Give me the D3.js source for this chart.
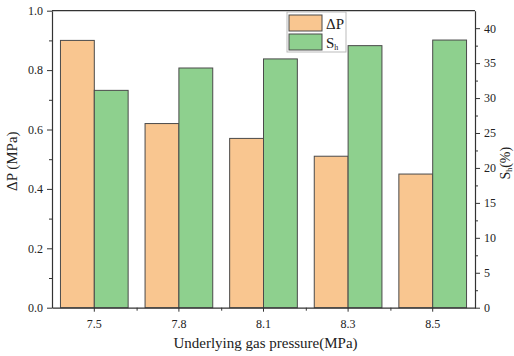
<!DOCTYPE html>
<html>
<head>
<meta charset="utf-8">
<script src="https://cdn.jsdelivr.net/npm/d3@7"></script>
<style>
  html, body { margin: 0; padding: 0; background: #fff; }
  svg, svg text { font-family: "Liberation Serif", "DejaVu Serif", serif !important; }
</style>
</head>
<body>
<svg id="chart" width="514" height="356"></svg>
<script>
// Underlying gas pressure groups
const categories = ["7.5", "7.8", "8.1", "8.3", "8.5"];
// Pressure difference ΔP (MPa), left axis
const deltaP = [0.90, 0.62, 0.57, 0.51, 0.45];
// Sh (%), right axis
const sh = [31.1, 34.3, 35.6, 37.5, 38.3];
const leftTicks = [0, 0.2, 0.4, 0.6, 0.8, 1.0];
const rightTicks = [0, 5, 10, 15, 20, 25, 30, 35, 40];

const colors = { dp: "#f9c690", sh: "#8ed08e", stroke: "#4a4a4a", axis: "#333" };

const svg = d3.select("#chart");
const m = { left: 52, right: 475, top: 10.7, bottom: 307.7 };

const x = d3.scaleBand().domain(categories).range([m.left, m.right]).padding(0);
const barW = x.bandwidth() * 0.4;
const yL = d3.scaleLinear().domain([0, 1.0]).range([m.bottom, m.top]);
const yR = d3.scaleLinear().domain([0, 42.5]).range([m.bottom, m.top]);

// Bars
const g = svg.append("g");
g.selectAll("rect.dp").data(categories).join("rect")
  .attr("class", "dp")
  .attr("x", d => x(d) + x.bandwidth() / 2 - barW)
  .attr("y", (d, i) => yL(deltaP[i]))
  .attr("width", barW)
  .attr("height", (d, i) => yL(0) - yL(deltaP[i]))
  .attr("fill", colors.dp).attr("stroke", colors.stroke).attr("stroke-width", 1);
g.selectAll("rect.sh").data(categories).join("rect")
  .attr("class", "sh")
  .attr("x", d => x(d) + x.bandwidth() / 2)
  .attr("y", (d, i) => yR(sh[i]))
  .attr("width", barW)
  .attr("height", (d, i) => yR(0) - yR(sh[i]))
  .attr("fill", colors.sh).attr("stroke", colors.stroke).attr("stroke-width", 1);

// Frame top line
svg.append("line").attr("x1", m.left).attr("x2", m.right).attr("y1", m.top).attr("y2", m.top)
  .attr("stroke", colors.axis).attr("stroke-width", 1.2);

function styleAxis(sel) {
  sel.attr("font-family", null);
  sel.select(".domain").attr("stroke", colors.axis).attr("stroke-width", 1.2);
  sel.selectAll(".tick line").attr("stroke", colors.axis).attr("stroke-width", 1);
  sel.selectAll(".tick text").attr("fill", "#222").style("font-size", "12px");
}

// Left axis with minor ticks
const leftMinor = d3.range(0.1, 1.0, 0.2);
svg.append("g").attr("transform", `translate(${m.left},0)`)
  .call(d3.axisLeft(yL).tickValues(leftMinor).tickSize(3).tickFormat(""))
  .call(s => s.select(".domain").remove())
  .call(s => s.selectAll(".tick line").attr("stroke", colors.axis));
svg.append("g").attr("transform", `translate(${m.left},0)`)
  .call(d3.axisLeft(yL).tickValues(leftTicks).tickSize(5).tickSizeOuter(0).tickPadding(4).tickFormat(d3.format(".1f")))
  .call(styleAxis);

// Right axis with minor ticks
const rightMinor = d3.range(2.5, 42.5, 5);
svg.append("g").attr("transform", `translate(${m.right},0)`)
  .call(d3.axisRight(yR).tickValues(rightMinor).tickSize(3).tickFormat(""))
  .call(s => s.select(".domain").remove())
  .call(s => s.selectAll(".tick line").attr("stroke", colors.axis));
svg.append("g").attr("transform", `translate(${m.right},0)`)
  .call(d3.axisRight(yR).tickValues(rightTicks).tickSize(5).tickSizeOuter(0).tickPadding(4).tickFormat(d3.format("d")))
  .call(styleAxis);

// Bottom axis: major ticks at group centers, minor at group boundaries
const bx = d3.scalePoint().domain(d3.range(categories.length + 1)).range([m.left, m.right]);
svg.append("g").attr("transform", `translate(0,${m.bottom})`)
  .call(d3.axisBottom(bx).tickValues(d3.range(1, categories.length)).tickSize(3).tickFormat(""))
  .call(s => s.select(".domain").remove())
  .call(s => s.selectAll(".tick line").attr("stroke", colors.axis));
svg.append("g").attr("transform", `translate(0,${m.bottom})`)
  .call(d3.axisBottom(x).tickSize(4).tickSizeOuter(0).tickPadding(8))
  .call(styleAxis);

// Axis titles
svg.append("text").attr("x", (m.left + m.right) / 2 + 2).attr("y", 348)
  .attr("text-anchor", "middle").style("font-size", "15px")
  .attr("fill", "#222").text("Underlying gas pressure(MPa)");
svg.append("text").attr("transform", `translate(17,${(m.top + m.bottom) / 2 + 2}) rotate(-90)`)
  .attr("text-anchor", "middle").style("font-size", "15px")
  .attr("fill", "#222").text("ΔP (MPa)");
const rt = svg.append("text").attr("transform", `translate(510,${(m.top + m.bottom) / 2 + 4}) rotate(-90)`)
  .attr("text-anchor", "middle").style("font-size", "14px")
  .attr("fill", "#222");
rt.append("tspan").text("S");
rt.append("tspan").attr("dy", 2).style("font-size", "8px").text("h");
rt.append("tspan").attr("dy", -2).text("(%)");

// Legend
const lg = svg.append("g").attr("transform", "translate(287,12)");
lg.append("rect").attr("width", 59).attr("height", 40).attr("fill", "#fff")
  .attr("stroke", "#bbb").attr("stroke-width", 1);
const items = [{ c: colors.dp, t: "ΔP" }, { c: colors.sh, t: "S" }];
items.forEach((it, i) => {
  lg.append("rect").attr("x", 2).attr("y", 3 + i * 19).attr("width", 33).attr("height", 16)
    .attr("fill", it.c).attr("stroke", colors.stroke).attr("stroke-width", 1);
  const t = lg.append("text").attr("x", 39).attr("y", 17 + i * 19)
    .style("font-size", "15px").attr("fill", "#222").text(it.t);
  if (i === 1) t.append("tspan").attr("dy", 2).style("font-size", "8px").text("h");
});
</script>
</body>
</html>
